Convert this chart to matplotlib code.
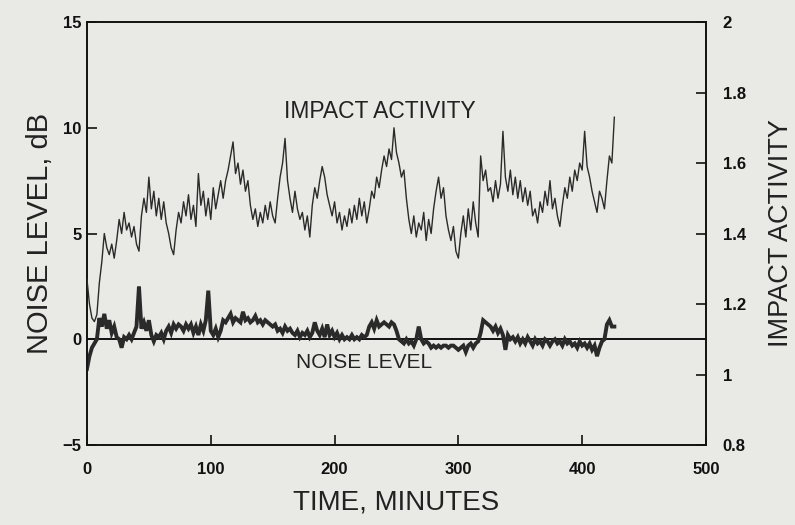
import numpy as np
import matplotlib
matplotlib.use("Agg")
import matplotlib.pyplot as plt

plt.rcParams['font.family'] = ['Liberation Sans', 'DejaVu Sans']

# Impact activity (right axis), sampled every 2 minutes from t=0
impact = [
    1.27, 1.20, 1.16, 1.15, 1.17, 1.26, 1.32, 1.40, 1.36, 1.34,
    1.37, 1.33, 1.38, 1.44, 1.40, 1.46, 1.41, 1.43, 1.39, 1.42,
    1.37, 1.35, 1.45, 1.50, 1.46, 1.56, 1.47, 1.52, 1.45, 1.50,
    1.44, 1.49, 1.43, 1.40, 1.36, 1.34, 1.41, 1.46, 1.43, 1.49,
    1.45, 1.51, 1.44, 1.48, 1.42, 1.57, 1.48, 1.52, 1.45, 1.50,
    1.44, 1.53, 1.47, 1.51, 1.55, 1.50, 1.55, 1.58, 1.62, 1.66,
    1.57, 1.60, 1.54, 1.58, 1.52, 1.55, 1.48, 1.44, 1.47, 1.42,
    1.46, 1.43, 1.48, 1.44, 1.49, 1.45, 1.43, 1.50, 1.56, 1.60,
    1.67, 1.55, 1.50, 1.46, 1.52, 1.47, 1.44, 1.46, 1.41, 1.45,
    1.39, 1.48, 1.53, 1.50, 1.55, 1.59, 1.56, 1.51, 1.48, 1.45,
    1.49, 1.43, 1.46, 1.41, 1.45, 1.42, 1.47, 1.43, 1.48, 1.44,
    1.50, 1.45, 1.49, 1.43, 1.47, 1.52, 1.50, 1.56, 1.53, 1.58,
    1.62, 1.59, 1.64, 1.61, 1.70, 1.63, 1.60, 1.56, 1.58, 1.50,
    1.44, 1.40, 1.45, 1.39, 1.43, 1.41, 1.46, 1.38, 1.44, 1.40,
    1.47, 1.52, 1.56, 1.50, 1.53, 1.45, 1.41, 1.38, 1.42, 1.35,
    1.33, 1.40, 1.45, 1.39, 1.47, 1.41, 1.49, 1.43, 1.39, 1.62,
    1.55, 1.58, 1.52, 1.53, 1.49, 1.55, 1.50, 1.54, 1.69, 1.56,
    1.52, 1.58, 1.51, 1.56, 1.50, 1.55, 1.49, 1.53, 1.48, 1.52,
    1.45, 1.47, 1.43, 1.49, 1.46, 1.52, 1.48, 1.55, 1.47, 1.50,
    1.45, 1.42, 1.48, 1.53, 1.50, 1.56, 1.52, 1.58, 1.55, 1.60,
    1.58, 1.69, 1.59, 1.56, 1.52, 1.49, 1.46, 1.52, 1.50, 1.47,
    1.55, 1.62, 1.60, 1.73,
]

# Noise level in dB (left axis), sampled every 2 minutes from t=0
noise = [
    -1.4, -0.8, -0.4, -0.2, 0.0, 1.0, 0.6, 1.2, 0.5, 0.9,
    0.3, 0.6, 0.1, 0.0, -0.4, 0.1, 0.0, 0.2, 0.0, 0.3,
    0.6, 2.5, 0.5, 0.8, 0.4, 0.9, 0.2, -0.1, 0.2, 0.1,
    0.3, 0.0, 0.4, 0.6, 0.3, 0.7, 0.5, 0.7, 0.6, 0.4,
    0.7, 0.5, 0.7, 0.3, 0.6, 0.2, 0.7, 0.4, 0.9, 2.3,
    0.4, 0.2, 0.5, 0.1, 0.4, 0.9, 0.8, 1.0, 1.2, 0.8,
    1.0, 0.9, 0.8, 1.3, 0.9, 1.0, 0.8, 0.9, 1.1, 0.8,
    0.9, 0.7, 0.9, 0.8, 0.7, 0.6, 0.7, 0.4, 0.5, 0.3,
    0.6, 0.4, 0.5, 0.3, 0.2, 0.4, 0.1, 0.3, 0.2, 0.4,
    0.1, 0.3, 0.8, 0.4, 0.2, 0.5, 0.1, 0.7, 0.2, 0.4,
    0.1, 0.3, 0.0, 0.2, 0.0, 0.1, 0.0, 0.2, 0.0, 0.1,
    0.0, 0.2, 0.1, 0.2, 0.6, 0.8, 0.5, 0.9, 0.6, 0.7,
    0.8, 0.7, 0.6, 0.8, 0.7, 0.4, 0.0, -0.1, -0.2, 0.0,
    -0.2, -0.1, -0.3, 0.0, 0.6, 0.0, -0.2, -0.1, -0.2, -0.4,
    -0.3, -0.4, -0.3, -0.4, -0.3, -0.3, -0.4, -0.3, -0.3, -0.4,
    -0.5, -0.4, -0.3, -0.6, -0.3, -0.2, -0.4, -0.2, -0.1, 0.3,
    0.9, 0.8, 0.7, 0.6, 0.4, 0.6, 0.3, 0.5, 0.2, -0.5,
    0.2, 0.0, 0.1, -0.1, 0.1, -0.2, 0.0, -0.2, 0.1, -0.1,
    -0.3, 0.0, -0.2, -0.1, -0.3, 0.0, -0.1, -0.3, -0.1, 0.0,
    -0.2, -0.1, -0.3, 0.0, -0.2, -0.1, -0.3, -0.2, -0.4, -0.1,
    -0.3, -0.2, -0.4, -0.2, -0.5, -0.3, -0.8, -0.4, -0.1, 0.0,
    0.7, 0.9, 0.6, 0.6,
]

time_impact = np.arange(len(impact)) * 2
time_noise = np.arange(len(noise)) * 2

x_ticks = [0, 100, 200, 300, 400, 500]
left_ticks = [-5, 0, 5, 10, 15]
left_labels = ['\u22125', '0', '5', '10', '15']
right_ticks = [0.8, 1, 1.2, 1.4, 1.6, 1.8, 2]
right_labels = ['0.8', '1', '1.2', '1.4', '1.6', '1.8', '2']

bg = '#e9e9e5'
ink = '#2a2a2a'

fig = plt.figure(figsize=(7.95, 5.25), dpi=100, facecolor=bg)
ax = fig.add_axes([0.1094, 0.1524, 0.7786, 0.8056])
ax.set_facecolor(bg)
ax.set_xlim(0, 500)
ax.set_ylim(-5, 15)

ax2 = ax.twinx()
ax2.set_ylim(0.8, 2.0)

# zero reference line
ax.axhline(0, color='#111111', lw=1.4, zorder=2)

ax.plot(time_noise, noise, color=ink, lw=2.8, zorder=3, solid_joinstyle='miter')
ax2.plot(time_impact, impact, color=ink, lw=1.0, zorder=3)

ax.set_xticks(x_ticks)
ax.set_xticklabels([str(v) for v in x_ticks])
ax.set_yticks(left_ticks)
ax.set_yticklabels(left_labels)
ax2.set_yticks(right_ticks)
ax2.set_yticklabels(right_labels)

for a in (ax, ax2):
    for s in a.spines.values():
        s.set_color('#111111')
        s.set_linewidth(1.2)

ax.tick_params(axis='both', direction='in', length=7, width=1.2,
               labelsize=12, colors='#111111')
ax.tick_params(axis='x', pad=12)
ax.tick_params(axis='y', pad=4)
ax2.tick_params(axis='y', direction='in', length=7, width=1.2,
                labelsize=12, colors='#111111', pad=12)
for lab in ax.get_xticklabels() + ax.get_yticklabels() + ax2.get_yticklabels():
    lab.set_fontweight('bold')

ax.set_xlabel('TIME, MINUTES', fontsize=20, color='#222222', labelpad=9)
ax.set_ylabel('NOISE LEVEL, dB', fontsize=21, color='#222222', labelpad=6)
ax2.set_ylabel('IMPACT ACTIVITY', fontsize=19.5, color='#222222', labelpad=16)

ax.text(237, 10.75, 'IMPACT ACTIVITY', fontsize=16.5, ha='center', va='center', color='#222222')
ax.text(224, -1.1, 'NOISE LEVEL', fontsize=15, ha='center', va='center', color='#222222')

fig.savefig('out.png', dpi=100, facecolor=bg)
